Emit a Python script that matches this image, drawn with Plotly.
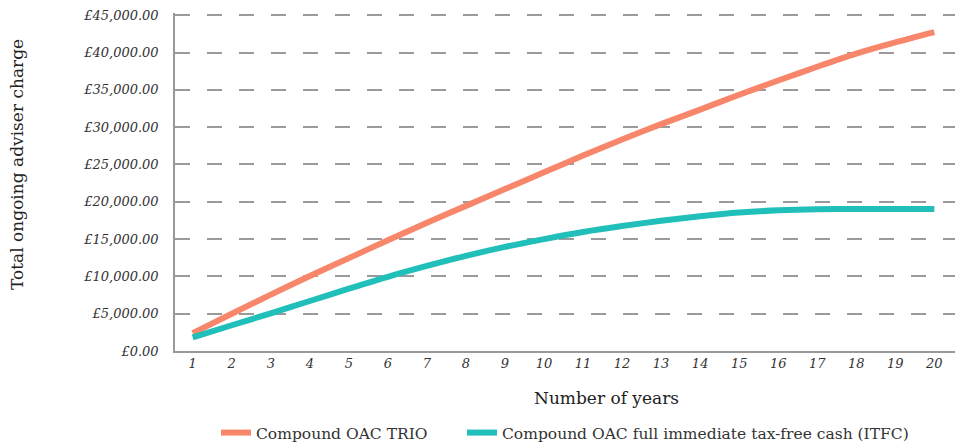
import plotly.graph_objects as go

years = list(range(1, 21))
trio = [2400, 5000, 7550, 10050, 12450, 14850, 17200, 19450, 21700, 23950,
        26200, 28350, 30400, 32350, 34350, 36250, 38100, 39850, 41350, 42730]
itfc = [1820, 3450, 5050, 6700, 8350, 9950, 11400, 12750, 13950, 15000,
        15950, 16750, 17450, 18050, 18550, 18850, 19000, 19020, 19020, 19020]
y_ticks = list(range(0, 45001, 5000))
y_labels = ["£{:,.2f}".format(v) for v in y_ticks]

FONT = "DejaVu Serif"
OFF = 8  # default page body margin
W, H = 957, 438
ML, MR, MT, MB = 167, 10, 5, 95
PW, PH = W - ML - MR, H - MT - MB
YMAX = 45300


def px_x(x):
    return (x - OFF - ML) / PW


def px_y(y):
    return (H - MB - (y - OFF)) / PH


fig = go.Figure()
fig.add_trace(go.Scatter(x=years, y=trio, mode="lines", name="Compound OAC TRIO",
                         line=dict(color="#F7866A", width=6, shape="spline", smoothing=0.7),
                         legend="legend"))
fig.add_trace(go.Scatter(x=years, y=itfc, mode="lines",
                         name="Compound OAC full immediate tax-free cash (ITFC)",
                         line=dict(color="#20BFB9", width=6, shape="spline", smoothing=0.7),
                         legend="legend2"))

leg_font = dict(family=FONT, size=15.5, color="#333333")
fig.update_layout(
    width=W, height=H,
    margin=dict(l=ML, r=MR, t=MT, b=MB, autoexpand=False),
    paper_bgcolor="white", plot_bgcolor="white",
    font=dict(family=FONT, color="#333333"),
    showlegend=True,
    legend=dict(orientation="h", x=px_x(216), xanchor="left",
                y=px_y(433), yanchor="middle", font=leg_font, itemwidth=30),
    legend2=dict(orientation="h", x=px_x(462), xanchor="left",
                 y=px_y(433), yanchor="middle", font=leg_font, itemwidth=30),
    xaxis=dict(range=[0.546, 20.53], tickmode="array", tickvals=years,
               ticktext=[f"<i>{v}</i>" for v in years], automargin=False,
               showgrid=False, zeroline=False, showline=True,
               linecolor="#999999", linewidth=1.5, ticks="",
               tickfont=dict(family=FONT, size=13, color="#333333")),
    yaxis=dict(range=[0, YMAX], tickmode="array", tickvals=y_ticks,
               ticktext=[f"<i>{t}</i>" for t in y_labels], automargin=False,
               ticklabeloverflow="allow",
               showgrid=True, gridcolor="#9a9a9a", gridwidth=1.5, griddash="15px,17px",
               zeroline=False, showline=True, linecolor="#999999", linewidth=1.5,
               ticks="", ticklabelstandoff=12,
               tickfont=dict(family=FONT, size=13, color="#333333")),
    annotations=[
        dict(text="Number of years", xref="paper", yref="paper",
             x=px_x(606), y=px_y(398),
             xanchor="center", yanchor="middle", showarrow=False,
             font=dict(family=FONT, size=17, color="#222222")),
        dict(text="Total ongoing adviser charge", xref="paper", yref="paper",
             x=px_x(17), y=px_y(165),
             xanchor="center", yanchor="middle", showarrow=False, textangle=-90,
             font=dict(family=FONT, size=17, color="#222222")),
    ],
)

fig.write_html("out.html")
